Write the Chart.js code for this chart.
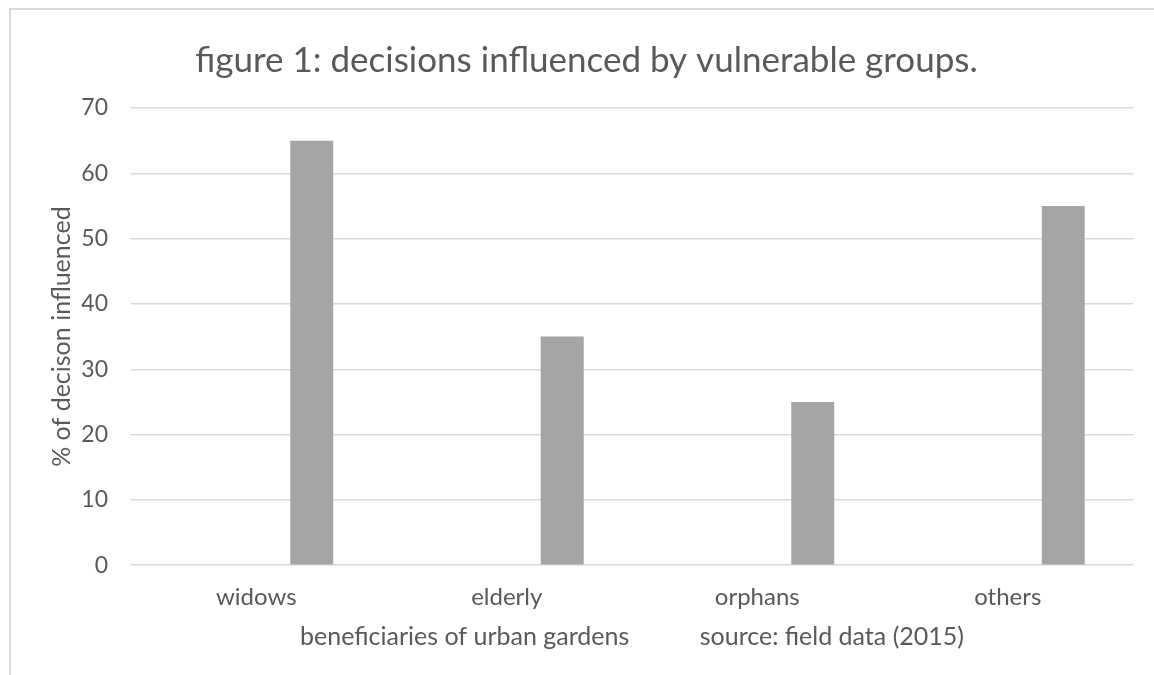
<!DOCTYPE html>
<html>
<head>
<meta charset="utf-8">
<script src="https://cdn.jsdelivr.net/npm/chart.js@4.4.1/dist/chart.umd.min.js"></script>
<style>
  body { margin: 0; background: #fff; }
  #wrap { position: relative; width: 1154px; height: 675px; }
  #frame { position: absolute; left: 9px; top: 8px; right: -2px; bottom: -2px; border: 2px solid #d9d9d9; }
  canvas { position: absolute; left: 0; top: 0; }
</style>
</head>
<body>
<div id="wrap">
  <div id="frame"></div>
  <canvas id="myChart" width="1154" height="675"></canvas>
</div>
<script>
const categories = ['widows', 'elderly', 'orphans', 'others'];
const emptySeries = [null, null, null, null];
const decisionValues = [65, 35, 25, 55];
const yTicks = [0, 10, 20, 30, 40, 50, 60, 70];

const grey = '#595959';
const ctx = document.getElementById('myChart');

new Chart(ctx, {
    type: 'bar',
    data: {
        labels: categories,
        datasets: [{
            label: 'series 1',
            data: emptySeries,
            backgroundColor: '#5b9bd5'
        }, {
            label: '% of decison influenced',
            data: decisionValues,
            backgroundColor: '#a5a5a5'
        }]
    },
    options: {
        responsive: false,
        animation: false,
        categoryPercentage: 0.886,
        barPercentage: 0.387,
        layout: { padding: { left: 40, right: 21, top: 0, bottom: 23 } },
        plugins: {
            legend: { display: false },
            tooltip: { enabled: false },
            title: {
                display: true,
                text: 'figure 1: decisions influenced by vulnerable groups.',
                color: grey,
                font: { family: 'Lato', size: 35, weight: 'normal' },
                padding: { top: 40, bottom: 26 }
            }
        },
        scales: {
            x: {
                grid: { display: false },
                border: { display: false },
                ticks: { color: grey, font: { family: 'Lato', size: 24 }, padding: 10 },
                title: {
                    display: true,
                    text: 'beneficiaries of urban gardens           source: field data (2015)',
                    color: grey,
                    font: { family: 'Lato', size: 25 },
                    padding: { top: 0, bottom: 0 }
                }
            },
            y: {
                min: 0,
                max: 70,
                afterBuildTicks: s => { s.ticks = yTicks.map(v => ({ value: v })); },
                afterFit: s => { s.width = 91; },
                grid: { color: '#d9d9d9', lineWidth: 1.5, drawTicks: false },
                border: { display: false },
                ticks: { color: grey, font: { family: 'Lato', size: 23 }, padding: 23 },
                title: {
                    display: true,
                    text: '% of decison influenced',
                    color: grey,
                    font: { family: 'Lato', size: 25 },
                    padding: { top: 7, bottom: 9 }
                }
            }
        }
    }
});
</script>
</body>
</html>
